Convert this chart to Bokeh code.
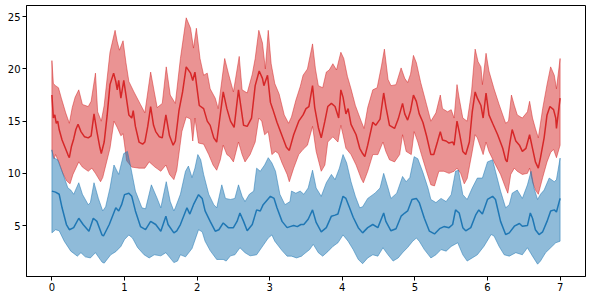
from bokeh.plotting import figure
from bokeh.models import Range1d, FixedTicker
from bokeh.embed import file_html
from bokeh.resources import INLINE

# ---- data ----
x_ticks = [0, 1, 2, 3, 4, 5, 6, 7]
y_ticks = [5, 10, 15, 20, 25]

red_mean_x = [0.00,0.02,0.04,0.06,0.08,0.10,0.14,0.18,0.22,0.24,0.27,0.30,0.33,0.36,0.40,0.45,0.50,0.54,0.58,0.62,0.66,0.68,0.72,0.76,0.80,0.85,0.88,0.90,0.92,0.95,0.99,1.02,1.06,1.10,1.12,1.15,1.20,1.25,1.28,1.32,1.36,1.40,1.43,1.48,1.52,1.57,1.62,1.67,1.70,1.75,1.80,1.85,1.91,1.94,1.97,2.03,2.09,2.14,2.18,2.23,2.27,2.36,2.41,2.46,2.51,2.57,2.64,2.69,2.75,2.80,2.855,2.90,2.92,2.97,3.01,3.04,3.10,3.17,3.23,3.27,3.33,3.40,3.46,3.50,3.54,3.59,3.62,3.67,3.71,3.76,3.80,3.85,3.90,3.95,3.98,4.01,4.05,4.08,4.12,4.19,4.24,4.28,4.31,4.35,4.42,4.46,4.52,4.57,4.60,4.65,4.72,4.77,4.83,4.86,4.90,4.94,4.98,5.02,5.06,5.11,5.16,5.22,5.26,5.31,5.35,5.38,5.43,5.47,5.52,5.54,5.58,5.61,5.66,5.70,5.75,5.79,5.83,5.86,5.91,5.94,5.98,6.02,6.07,6.14,6.21,6.25,6.27,6.31,6.34,6.39,6.44,6.48,6.53,6.58,6.62,6.66,6.70,6.73,6.78,6.82,6.86,6.91,6.94,6.95,7.00]
red_mean_y = [17.5,15.3,15.6,14.8,15.0,14.2,13.2,12.5,11.8,11.5,12.6,13.3,14.2,14.7,14.0,13.5,13.4,13.6,15.7,14.0,12.5,11.9,13.0,15.5,18.5,19.6,18.8,18.0,18.9,17.2,18.9,17.5,15.6,15.3,16.0,14.5,13.0,12.8,13.0,14.5,16.4,14.6,14.0,13.5,13.4,15.6,13.6,12.7,13.1,16.0,17.8,20.2,19.6,18.9,19.7,16.5,16.2,15.0,14.6,13.4,13.0,17.8,16.2,15.0,14.4,18.0,14.6,14.5,15.3,18.4,19.8,19.1,18.4,19.4,16.8,16.2,14.9,13.6,12.5,12.2,13.7,15.0,15.6,16.2,16.4,18.4,16.3,14.4,13.4,15.0,16.4,16.7,16.4,15.3,18.0,17.3,15.7,16.2,14.7,13.7,12.4,11.9,11.6,12.7,14.9,14.6,15.2,17.7,16.4,14.6,14.3,15.2,16.7,15.7,15.1,16.0,17.5,16.9,15.7,14.9,13.6,11.8,11.8,13.0,14.0,13.2,13.1,12.9,13.0,12.7,15.0,14.0,12.1,11.8,13.0,15.9,17.8,17.2,16.5,15.3,17.7,15.6,14.8,13.7,12.4,11.3,11.1,13.0,14.2,13.1,12.7,12.1,12.4,13.7,12.4,11.1,10.5,11.5,13.4,15.6,16.4,16.1,15.3,14.3,17.2]

red_upper_x = [0.00,0.02,0.05,0.09,0.13,0.19,0.24,0.28,0.32,0.37,0.42,0.50,0.54,0.60,0.63,0.68,0.72,0.80,0.87,0.90,0.93,0.98,1.02,1.06,1.13,1.22,1.28,1.36,1.41,1.45,1.52,1.575,1.63,1.70,1.77,1.85,1.91,1.95,1.99,2.04,2.09,2.14,2.18,2.25,2.29,2.38,2.43,2.50,2.58,2.62,2.69,2.76,2.80,2.85,2.90,2.94,2.98,3.02,3.07,3.13,3.20,3.26,3.30,3.36,3.42,3.46,3.52,3.59,3.63,3.67,3.73,3.78,3.82,3.87,3.92,3.98,4.02,4.07,4.12,4.18,4.26,4.30,4.35,4.42,4.48,4.54,4.58,4.63,4.67,4.74,4.81,4.86,4.90,4.94,4.98,5.02,5.08,5.16,5.22,5.29,5.35,5.38,5.45,5.50,5.54,5.58,5.61,5.66,5.72,5.78,5.83,5.87,5.91,5.93,5.98,6.02,6.09,6.16,6.25,6.29,6.33,6.37,6.41,6.48,6.55,6.58,6.62,6.66,6.70,6.76,6.82,6.87,6.92,6.95,7.00]
red_upper_y = [20.8,18.6,18.4,18.2,17.2,15.8,14.8,16.3,17.3,18.0,16.6,16.4,16.9,19.6,15.9,15.0,16.5,21.6,23.7,22.6,21.8,22.7,20.6,18.8,17.8,16.6,15.8,19.7,17.8,16.3,16.7,20.2,17.5,16.7,21.0,24.9,23.9,22.0,23.9,21.0,19.4,19.6,18.1,17.2,16.2,21.0,19.6,17.8,21.2,18.0,17.7,19.5,21.0,23.7,22.5,20.0,23.7,20.5,18.6,17.6,15.6,14.8,15.4,17.0,18.3,19.4,20.0,22.4,20.0,18.4,18.2,19.7,19.9,20.5,19.9,21.6,21.0,19.3,18.1,16.5,15.0,14.3,16.3,18.0,18.2,20.3,21.9,19.0,18.4,18.5,20.1,19.1,18.7,19.5,21.3,20.6,18.7,16.6,15.0,15.8,17.5,16.2,15.9,16.1,15.3,18.5,17.2,15.3,15.0,17.8,21.9,20.7,20.2,18.5,21.5,19.8,18.1,16.6,14.8,15.0,17.5,16.5,15.6,15.3,15.9,16.9,15.3,14.3,13.4,16.2,18.5,20.2,19.4,18.1,21.0]

red_lower_x = [0.00,0.03,0.05,0.10,0.15,0.20,0.25,0.29,0.37,0.42,0.50,0.55,0.60,0.67,0.70,0.75,0.80,0.855,0.90,0.95,0.98,1.00,1.03,1.10,1.20,1.28,1.34,1.42,1.50,1.57,1.62,1.68,1.72,1.79,1.85,1.91,1.94,1.97,2.02,2.09,2.16,2.22,2.27,2.32,2.36,2.41,2.45,2.50,2.57,2.62,2.66,2.73,2.80,2.85,2.89,2.93,2.98,3.03,3.08,3.12,3.17,3.24,3.27,3.33,3.40,3.46,3.52,3.59,3.64,3.71,3.76,3.80,3.87,3.94,3.98,4.01,4.05,4.12,4.19,4.26,4.29,4.35,4.42,4.49,4.56,4.60,4.65,4.72,4.79,4.83,4.88,4.95,4.99,5.04,5.09,5.16,5.22,5.27,5.33,5.40,5.47,5.54,5.58,5.63,5.68,5.72,5.79,5.83,5.86,5.91,5.94,5.98,6.02,6.09,6.18,6.25,6.28,6.32,6.37,6.41,6.48,6.55,6.58,6.62,6.66,6.70,6.76,6.82,6.87,6.91,6.95,7.00]
red_lower_y = [12.2,11.4,11.8,11.0,10.0,9.3,9.0,9.9,11.1,10.6,10.2,10.5,10.0,9.2,9.6,11.0,12.4,15.0,14.4,13.6,13.8,12.8,11.2,10.6,10.5,10.5,11.1,10.6,10.2,10.8,9.9,9.4,10.3,14.0,15.4,15.2,13.1,15.3,12.9,12.8,11.8,10.8,10.3,11.3,12.7,11.8,11.6,11.1,13.0,11.8,11.1,11.8,13.0,15.3,15.0,13.7,14.0,11.8,12.1,11.9,11.0,9.9,9.2,10.5,11.8,12.3,12.7,14.5,12.1,10.2,10.8,13.0,13.5,13.0,14.6,13.7,12.4,11.8,10.8,9.5,9.1,10.2,11.8,11.8,13.0,12.1,11.3,11.1,11.8,13.7,12.1,11.8,14.0,13.0,11.8,10.2,8.9,8.8,10.2,10.2,10.0,10.2,10.5,10.0,9.0,9.5,12.1,13.7,13.4,12.4,11.8,13.0,12.1,11.1,9.9,8.6,8.1,9.9,10.5,10.2,9.9,10.0,10.5,9.2,8.4,8.0,9.6,11.1,12.0,12.3,11.5,12.7]

blue_mean_x = [0.00,0.05,0.10,0.14,0.20,0.24,0.30,0.37,0.43,0.51,0.57,0.62,0.69,0.71,0.79,0.88,0.92,0.96,1.00,1.06,1.10,1.15,1.22,1.29,1.36,1.43,1.50,1.57,1.60,1.68,1.72,1.77,1.86,1.90,1.95,2.02,2.07,2.11,2.18,2.25,2.30,2.36,2.43,2.50,2.55,2.59,2.64,2.69,2.76,2.82,2.87,2.91,3.01,3.06,3.10,3.17,3.24,3.28,3.33,3.38,3.43,3.47,3.53,3.59,3.64,3.71,3.78,3.85,3.90,3.94,4.01,4.05,4.10,4.15,4.22,4.28,4.35,4.42,4.49,4.57,4.60,4.67,4.74,4.81,4.86,4.90,4.96,5.02,5.06,5.13,5.20,5.27,5.34,5.40,5.47,5.52,5.56,5.61,5.66,5.70,5.77,5.84,5.88,5.93,6.00,6.07,6.11,6.18,6.25,6.30,6.37,6.44,6.48,6.55,6.59,6.62,6.66,6.71,6.76,6.82,6.87,6.92,6.95,7.00]
blue_mean_y = [8.3,8.2,8.0,6.7,5.1,4.6,4.8,5.7,5.1,4.46,5.7,5.4,4.1,4.0,5.1,6.7,6.4,7.0,7.96,8.1,7.8,6.4,4.9,4.6,5.4,5.1,4.46,5.9,5.1,4.3,4.5,5.1,6.7,6.1,7.0,7.96,7.6,6.4,5.4,4.46,4.6,5.25,4.8,4.8,5.4,6.2,5.4,4.5,5.1,6.5,6.4,7.0,7.8,7.6,6.7,5.4,4.8,4.9,5.0,4.9,5.1,5.1,5.6,6.5,5.3,4.4,4.8,5.9,6.0,6.1,7.8,7.6,6.7,5.8,4.8,4.3,4.8,5.1,4.8,6.2,5.4,4.5,4.7,5.9,6.2,6.4,7.5,7.6,7.2,5.7,4.46,4.2,4.7,4.9,4.8,5.1,6.5,6.2,4.8,4.5,4.8,6.05,6.5,6.1,7.5,7.8,7.5,5.4,4.14,4.3,4.94,5.2,4.94,5.0,6.2,5.7,4.6,4.14,4.4,5.4,6.4,6.5,6.3,7.6]

blue_upper_x = [0.00,0.02,0.08,0.15,0.22,0.26,0.30,0.37,0.42,0.50,0.53,0.58,0.64,0.70,0.74,0.80,0.855,0.92,0.99,1.04,1.08,1.15,1.24,1.29,1.37,1.45,1.50,1.575,1.63,1.68,1.70,1.77,1.84,1.88,1.93,1.97,2.01,2.05,2.09,2.16,2.23,2.27,2.34,2.39,2.46,2.52,2.57,2.62,2.66,2.72,2.78,2.82,2.87,2.93,2.98,3.03,3.08,3.14,3.21,3.28,3.30,3.36,3.42,3.47,3.53,3.59,3.64,3.71,3.78,3.85,3.90,3.96,4.01,4.06,4.12,4.18,4.24,4.28,4.35,4.45,4.52,4.57,4.63,4.67,4.75,4.83,4.88,4.93,4.99,5.04,5.11,5.18,5.22,5.29,5.36,5.43,5.50,5.56,5.60,5.66,5.72,5.79,5.86,5.93,6.00,6.07,6.11,6.18,6.25,6.30,6.34,6.41,6.48,6.55,6.60,6.64,6.69,6.73,6.78,6.85,6.92,6.95,7.00]
blue_upper_y = [12.25,11.5,11.3,10.0,8.6,8.4,8.0,9.1,8.0,7.0,7.2,9.1,7.6,6.4,6.8,8.6,10.8,9.9,11.9,12.1,10.8,8.3,6.7,6.6,8.9,7.6,6.7,9.2,7.3,6.4,6.7,8.0,10.2,10.7,9.6,10.5,11.8,11.3,9.9,8.0,7.0,6.7,8.9,7.6,7.5,7.6,8.9,7.8,7.3,8.0,8.3,10.5,10.2,10.8,11.5,11.0,10.2,8.0,7.0,7.3,8.3,8.1,8.3,8.0,8.6,10.3,8.6,7.8,9.1,9.9,9.4,10.5,11.8,11.0,9.2,7.8,6.7,6.8,7.6,8.1,8.6,10.0,8.6,7.6,8.1,9.7,9.2,9.6,11.6,11.4,10.1,8.6,7.5,7.2,7.6,7.3,7.96,10.2,10.3,7.96,7.5,8.6,9.55,9.55,11.1,11.3,10.2,8.3,6.7,7.0,8.1,8.4,7.6,8.9,10.2,8.6,7.5,8.0,8.4,9.55,9.2,9.4,11.46]

blue_lower_x = [0.00,0.05,0.10,0.17,0.26,0.35,0.40,0.46,0.53,0.60,0.69,0.72,0.81,0.88,0.95,1.00,1.06,1.11,1.18,1.27,1.34,1.41,1.50,1.57,1.68,1.73,1.77,1.84,1.93,2.02,2.07,2.11,2.18,2.27,2.36,2.40,2.46,2.52,2.59,2.66,2.73,2.82,2.89,2.98,3.03,3.07,3.17,3.24,3.30,3.37,3.44,3.46,3.55,3.60,3.67,3.73,3.80,3.87,3.94,4.01,4.08,4.15,4.22,4.28,4.35,4.42,4.49,4.56,4.63,4.70,4.77,4.83,4.90,4.97,5.02,5.06,5.13,5.22,5.29,5.36,5.43,5.50,5.59,5.66,5.72,5.79,5.86,5.95,6.05,6.09,6.16,6.23,6.30,6.39,6.48,6.55,6.62,6.69,6.73,6.80,6.87,6.94,7.00]
blue_lower_y = [4.3,4.6,4.5,3.5,2.55,2.07,2.4,2.0,1.9,2.4,1.5,1.4,2.2,2.5,3.0,3.66,4.1,3.8,2.9,2.2,1.9,2.2,2.1,2.4,1.45,1.6,2.2,2.0,2.8,4.6,4.4,3.5,2.6,1.75,1.75,1.6,2.1,2.2,2.87,2.4,2.1,2.2,2.9,3.8,4.1,3.5,2.6,2.07,2.07,1.9,2.07,2.2,2.7,3.2,2.4,2.07,2.5,3.0,3.35,4.1,3.5,2.7,1.75,1.35,1.9,2.2,2.07,2.87,2.2,1.6,1.9,2.4,2.9,3.5,3.8,3.5,2.7,1.9,2.2,2.7,2.55,3.0,3.35,2.2,1.6,1.9,2.2,3.0,4.14,4.0,3.0,2.2,2.07,2.4,2.2,2.87,2.07,1.3,1.6,2.4,2.87,3.35,3.5]

RED = "#d62728"
BLUE = "#1f77b4"

p = figure(frame_width=559, frame_height=271, output_backend="svg", toolbar_location=None,
           x_range=Range1d(-0.35, 7.35), y_range=Range1d(0.12, 26.08),
           min_border_left=26, min_border_right=1, min_border_top=5, min_border_bottom=0)
p.background_fill_color = "white"
p.border_fill_color = "white"
p.outline_line_color = "black"
p.outline_line_width = 1
p.xgrid.visible = False
p.ygrid.visible = False


def band(xu, yu, xl, yl, color):
    xs = list(xu) + list(reversed(xl))
    ys = list(yu) + list(reversed(yl))
    p.patch(xs, ys, fill_color=color, fill_alpha=0.5,
            line_color=color, line_alpha=0.5, line_width=1)


band(red_upper_x, red_upper_y, red_lower_x, red_lower_y, RED)
p.line(red_mean_x, red_mean_y, line_color=RED, line_width=1.5)
band(blue_upper_x, blue_upper_y, blue_lower_x, blue_lower_y, BLUE)
p.line(blue_mean_x, blue_mean_y, line_color=BLUE, line_width=1.5)

p.xaxis.ticker = FixedTicker(ticks=x_ticks)
p.yaxis.ticker = FixedTicker(ticks=y_ticks)
for ax in (p.xaxis[0], p.yaxis[0]):
    ax.major_label_text_font = "DejaVu Sans"
    ax.major_label_text_font_size = "10px"
    ax.major_label_text_color = "black"
    ax.major_tick_in = 0
    ax.major_tick_out = 4
    ax.major_tick_line_color = "black"
    ax.minor_tick_line_color = None
    ax.axis_line_color = "black"
    ax.major_label_standoff = 2

out = file_html(p, INLINE)
open("out.html", "w").write(out)
